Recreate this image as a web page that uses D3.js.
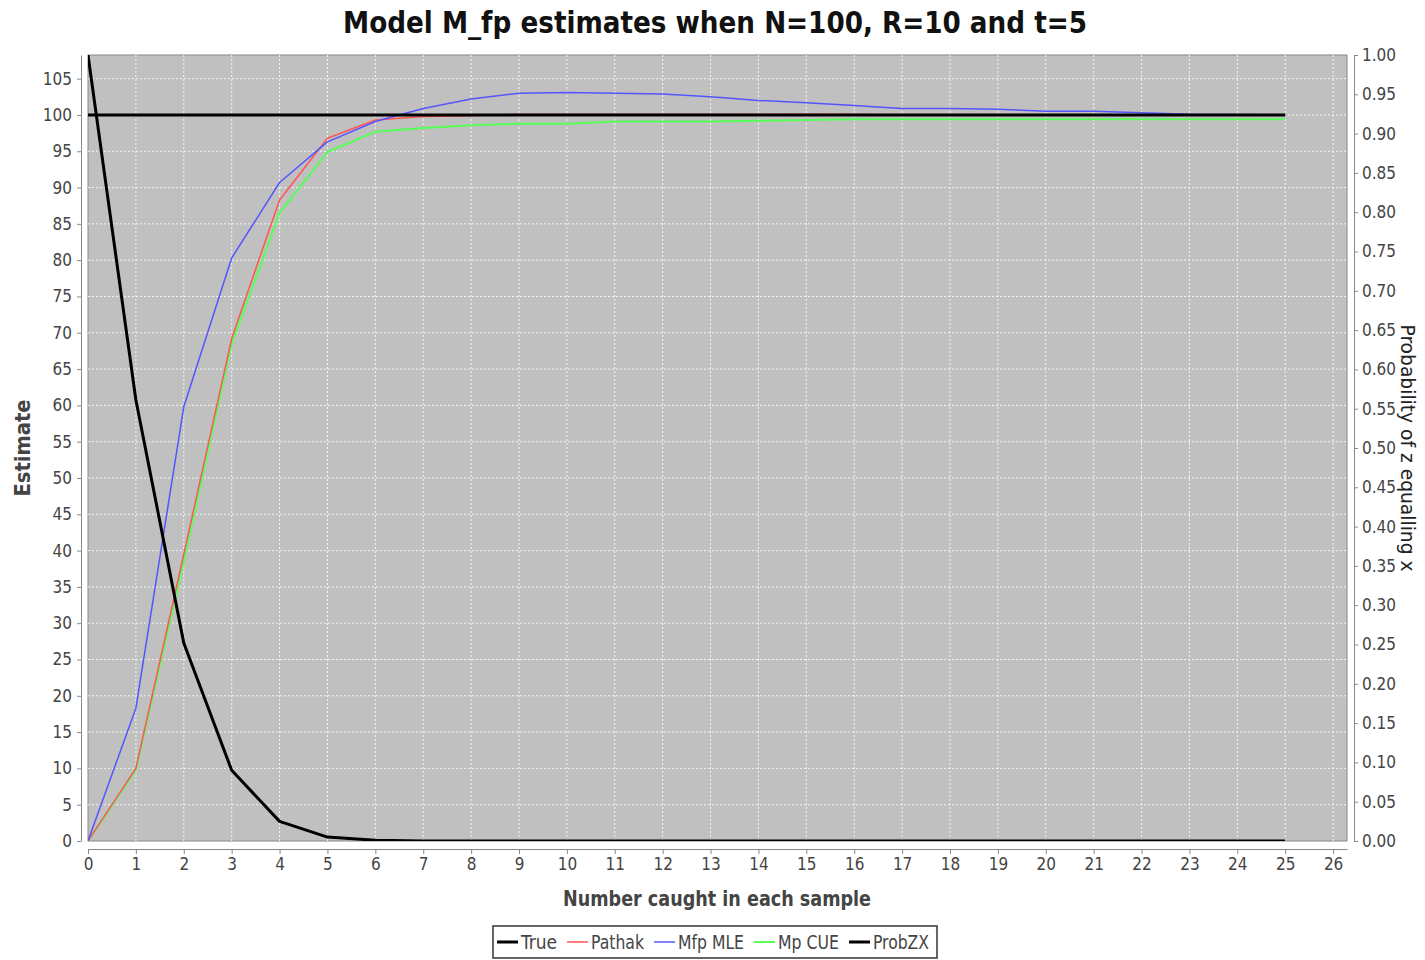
<!DOCTYPE html>
<html lang="en">
<head>
  <meta charset="UTF-8">
  <title>Model M_fp estimates</title>
  <style>
    body { margin: 0; background: #fff; }
    text { font-family: 'DejaVu Sans', sans-serif; font-stretch: condensed; }
    .grid line { stroke: #f4f4f4; stroke-width: 1px; stroke-dasharray: 2px 2px; }
    .axis path, .axis line { stroke: #888; }
    .axis text { fill: #444; font-size: 17px; }
  </style>
</head>
<body>
  <div id="chart"></div>
  <script src="https://cdn.jsdelivr.net/npm/d3@7"></script>
  <script>
    // Data
    const sampleSizes = d3.range(0, 26);
    const trueN = sampleSizes.map(() => 100);
    const pathak = [0, 10, 39.5, 69.2, 88.3, 96.8, 99.3, 99.8, 99.9, 100.1, 100.1, 100.1, 100.1, 100.1,
      100.1, 100.1, 100.1, 100, 100, 100, 100, 100, 100, 100, 100, 100];
    const mfpMLE = [0, 18.3, 59.8, 80.3, 90.7, 96.3, 99.1, 100.9, 102.2, 103.0, 103.1, 103.0, 102.9, 102.5,
      102.0, 101.7, 101.3, 100.9, 100.9, 100.8, 100.5, 100.5, 100.3, 100.1, 100.05, 100];
    const mpCUE = [0, 9.8, 38.5, 68.5, 86.5, 94.9, 97.7, 98.2, 98.6, 98.8, 98.8, 99.1, 99.1, 99.1,
      99.2, 99.3, 99.4, 99.4, 99.4, 99.4, 99.4, 99.4, 99.4, 99.4, 99.4, 99.4];
    const probZX = [1.0, 0.561, 0.252, 0.090, 0.025, 0.005, 0.001, 0, 0, 0, 0, 0, 0, 0,
      0, 0, 0, 0, 0, 0, 0, 0, 0, 0, 0, 0];

    const xTicks = d3.range(0, 27);
    const yLeftTicks = d3.range(0, 106, 5);
    const yRightTicks = d3.range(0, 1.0001, 0.05);

    const W = 1425, H = 960;
    const plot = { left: 88, right: 1347, top: 55, bottom: 841 };

    const svg = d3.select('#chart').append('svg')
      .attr('width', W)
      .attr('height', H);

    const x = d3.scaleLinear().domain([0, 26.29]).range([plot.left, plot.right]);
    const yL = d3.scaleLinear().domain([0, 108.26]).range([plot.bottom, plot.top]);
    const yR = d3.scaleLinear().domain([0, 1]).range([plot.bottom, plot.top]);

    // Plot background
    svg.append('rect')
      .attr('x', plot.left).attr('y', plot.top)
      .attr('width', plot.right - plot.left).attr('height', plot.bottom - plot.top)
      .style('fill', '#c0c0c0')
      .style('stroke', '#888')
      .style('stroke-width', 1);

    // Gridlines
    const grid = svg.append('g').attr('class', 'grid');
    grid.selectAll('.v').data(xTicks.slice(1)).enter().append('line')
      .attr('x1', d => x(d)).attr('x2', d => x(d))
      .attr('y1', plot.top).attr('y2', plot.bottom);
    grid.selectAll('.h').data(yLeftTicks.slice(1)).enter().append('line')
      .attr('y1', d => yL(d)).attr('y2', d => yL(d))
      .attr('x1', plot.left).attr('x2', plot.right);

    // Axes
    svg.append('g').attr('class', 'axis')
      .attr('transform', `translate(0, ${plot.bottom + 8})`)
      .call(d3.axisBottom(x).tickValues(xTicks).tickSizeOuter(0).tickSizeInner(5).tickPadding(4));
    svg.append('g').attr('class', 'axis')
      .attr('transform', `translate(${plot.left - 7}, 0)`)
      .call(d3.axisLeft(yL).tickValues(yLeftTicks).tickSizeOuter(0).tickSizeInner(4).tickPadding(5));
    svg.append('g').attr('class', 'axis')
      .attr('transform', `translate(${plot.right + 7}, 0)`)
      .call(d3.axisRight(yR).tickValues(yRightTicks).tickFormat(d3.format('.2f')).tickSizeOuter(0).tickSizeInner(4).tickPadding(4));

    // Series
    const series = [
      { name: 'True', values: trueN, color: '#000', width: 3, scale: yL },
      { name: 'Pathak', values: pathak, color: '#ff5555', width: 1.5, scale: yL },
      { name: 'Mfp MLE', values: mfpMLE, color: '#5555ff', width: 1.5, scale: yL },
      { name: 'Mp CUE', values: mpCUE, color: '#55ff55', width: 2, scale: yL },
      { name: 'ProbZX', values: probZX, color: '#000', width: 3, scale: yR }
    ];

    svg.append('clipPath').attr('id', 'plotClip')
      .append('rect')
      .attr('x', plot.left).attr('y', plot.top)
      .attr('width', plot.right - plot.left).attr('height', plot.bottom - plot.top);

    // Draw order: green under red/blue, black on top
    const drawOrder = [3, 1, 2, 0, 4];
    drawOrder.forEach(i => {
      const s = series[i];
      const line = d3.line()
        .x((d, j) => x(sampleSizes[j]))
        .y(d => s.scale(d));
      svg.append('path')
        .datum(s.values)
        .attr('clip-path', 'url(#plotClip)')
        .attr('d', line)
        .style('fill', 'none')
        .style('stroke', s.color)
        .style('stroke-width', s.width)
        .style('stroke-linejoin', 'round');
    });

    // Title and axis labels
    svg.append('text')
      .attr('x', 715).attr('y', 33)
      .style('text-anchor', 'middle')
      .style('font-size', '30px')
      .style('font-weight', 'bold')
      .style('fill', '#111')
      .attr('textLength', 744)
      .attr('lengthAdjust', 'spacingAndGlyphs')
      .text('Model M_fp estimates when N=100, R=10 and t=5');

    svg.append('text')
      .attr('x', 717).attr('y', 906)
      .style('text-anchor', 'middle')
      .style('font-size', '21px')
      .style('font-weight', 'bold')
      .style('fill', '#444')
      .attr('textLength', 308)
      .attr('lengthAdjust', 'spacingAndGlyphs')
      .text('Number caught in each sample');

    svg.append('text')
      .attr('transform', 'translate(30, 448) rotate(-90)')
      .style('text-anchor', 'middle')
      .style('font-size', '21px')
      .style('font-weight', 'bold')
      .style('fill', '#444')
      .attr('textLength', 97)
      .attr('lengthAdjust', 'spacingAndGlyphs')
      .text('Estimate');

    svg.append('text')
      .attr('transform', 'translate(1401, 448) rotate(90)')
      .style('text-anchor', 'middle')
      .style('font-size', '19px')
      .style('fill', '#222')
      .attr('textLength', 247)
      .attr('lengthAdjust', 'spacingAndGlyphs')
      .text('Probability of z equalling x');

    // Legend: text widths
    const legendTextWidths = [36, 53, 66, 61, 56];
    const legend = svg.append('g').attr('transform', 'translate(493, 926)');
    legend.append('rect')
      .attr('width', 444).attr('height', 32)
      .style('fill', '#fff')
      .style('stroke', '#333')
      .style('stroke-width', 1.5);
    let lx = 4;
    series.forEach((s, i) => {
      legend.append('line')
        .attr('x1', lx).attr('x2', lx + 21)
        .attr('y1', 16).attr('y2', 16)
        .style('stroke', s.color)
        .style('stroke-width', s.width);
      legend.append('text')
        .attr('x', lx + 24).attr('y', 23)
        .style('font-size', '19px')
        .style('fill', '#444')
        .attr('textLength', legendTextWidths[i])
        .attr('lengthAdjust', 'spacingAndGlyphs')
        .text(s.name);
      lx += 24 + legendTextWidths[i] + 10;
    });
  </script>
</body>
</html>
